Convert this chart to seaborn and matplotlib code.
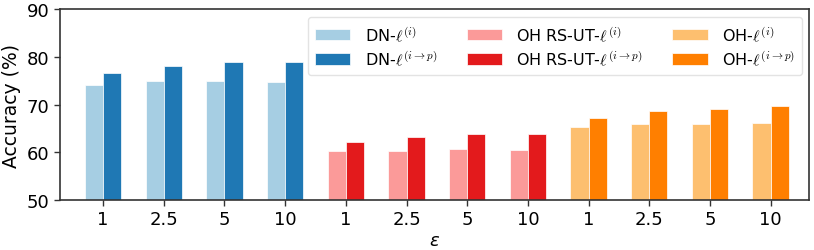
import pandas as pd
import matplotlib.pyplot as plt
import seaborn as sns

# data
eps_labels = ['1', '2.5', '5', '10']
methods = ['DN', 'OH RS-UT', 'OH']

dn_i = [74.1, 75.0, 75.0, 74.8]
dn_ip = [76.6, 78.1, 78.9, 78.9]
rs_i = [60.2, 60.3, 60.7, 60.5]
rs_ip = [62.1, 63.3, 63.8, 63.9]
oh_i = [65.3, 65.9, 66.0, 66.1]
oh_ip = [67.2, 68.6, 69.0, 69.6]

colors = {
    'DN': ['#a6cee3', '#1f78b4'],
    'OH RS-UT': ['#fb9a99', '#e31a1c'],
    'OH': ['#fdbf6f', '#ff7f00'],
}
series = {
    'DN': (dn_i, dn_ip),
    'OH RS-UT': (rs_i, rs_ip),
    'OH': (oh_i, oh_ip),
}

sns.set_style('ticks')
plt.rcParams['font.family'] = ['DejaVu Sans']
plt.rcParams['text.color'] = 'black'
plt.rcParams['axes.labelcolor'] = 'black'

fig = plt.figure(figsize=(8.14, 2.51), dpi=100)
ax = fig.add_axes([0.0737, 0.199, 0.920, 0.761])

for k, m in enumerate(methods):
    vals_i, vals_ip = series[m]
    lab_i = m + r'-$\ell^{(i)}$'
    lab_ip = m + r'-$\ell^{(i\to p)}$'
    rows = []
    for j in range(len(eps_labels)):
        pos = k * len(eps_labels) + j
        rows.append({'pos': pos, 'variant': lab_i, 'acc': vals_i[j]})
        rows.append({'pos': pos, 'variant': lab_ip, 'acc': vals_ip[j]})
    df = pd.DataFrame(rows)
    sns.barplot(data=df, x='pos', y='acc', hue='variant', hue_order=[lab_i, lab_ip],
                palette=colors[m], native_scale=True, width=0.6, dodge=True,
                edgecolor='white', linewidth=0.5, saturation=1, ax=ax, legend=True)

h, l = ax.get_legend_handles_labels()
ax.legend(h, l, ncol=3, loc='upper right', bbox_to_anchor=(0.991, 0.958),
          prop=dict(size=11.5, math_fontfamily='cm'), frameon=True,
          handlelength=2.2, handletextpad=0.9, columnspacing=1.85,
          borderpad=0.45, labelspacing=0.35, borderaxespad=0,
          edgecolor='#dddddd', fancybox=True)

ax.set_ylim(50, 90)
ax.set_yticks([50, 60, 70, 80, 90])
ax.set_xlim(-0.71, 11.63)
ax.set_xticks(range(12))
ax.set_xticklabels(eps_labels * 3)
ax.tick_params(labelsize=13, length=4, width=1, color='#333333', labelcolor='black')
for s in ax.spines.values():
    s.set_visible(True)
    s.set_color('#333333')
    s.set_linewidth(1.2)

ax.set_ylabel('Accuracy (%)', fontsize=13.5, labelpad=4)
ax.set_xlabel(r'$\varepsilon$', fontsize=13, math_fontfamily='dejavusans', labelpad=2)

fig.savefig('out.png', dpi=100)
